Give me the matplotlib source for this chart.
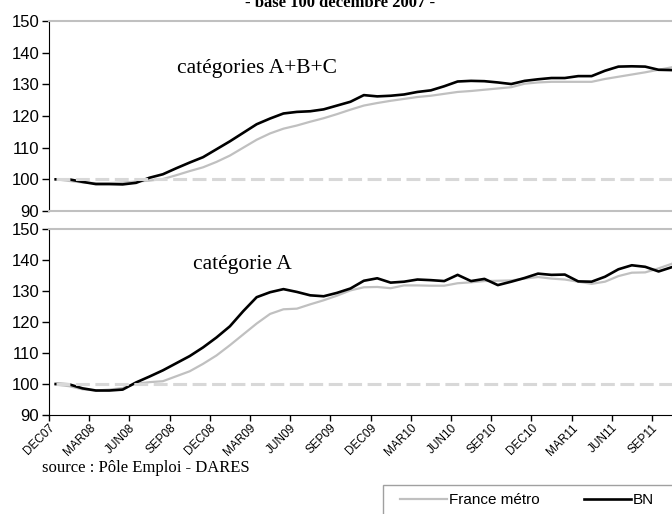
import matplotlib
matplotlib.use("Agg")
import matplotlib.pyplot as plt
from matplotlib.patches import Rectangle
import numpy as np

plt.rcParams['lines.scale_dashes'] = False

# mois de déc. 2007 à nov. 2011
months = ['DEC07', 'JAN08', 'FEB08', 'MAR08', 'APR08', 'MAY08', 'JUN08', 'JUL08', 'AUG08',
          'SEP08', 'OCT08', 'NOV08', 'DEC08', 'JAN09', 'FEB09', 'MAR09', 'APR09', 'MAY09',
          'JUN09', 'JUL09', 'AUG09', 'SEP09', 'OCT09', 'NOV09', 'DEC09', 'JAN10', 'FEB10',
          'MAR10', 'APR10', 'MAY10', 'JUN10', 'JUL10', 'AUG10', 'SEP10', 'OCT10', 'NOV10',
          'DEC10', 'JAN11', 'FEB11', 'MAR11', 'APR11', 'MAY11', 'JUN11', 'JUL11', 'AUG11',
          'SEP11', 'OCT11', 'NOV11']

# catégories A+B+C
abc_france = [100, 99.5, 99, 98.8, 98.8, 99, 99.3, 99.6, 100.1, 101.3, 102.6, 103.8, 105.5,
              107.5, 110, 112.5, 114.5, 116, 117, 118.2, 119.3, 120.6, 122, 123.3, 124.1,
              124.8, 125.4, 126, 126.4, 127, 127.6, 127.9, 128.3, 128.7, 129.1, 130.2, 130.6,
              130.8, 130.8, 130.8, 130.8, 131.7, 132.4, 133.1, 133.8, 134.6, 135.4, 135.8]
abc_bn = [100, 100, 99.2, 98.5, 98.5, 98.4, 98.9, 100.5, 101.6, 103.5, 105.3, 107, 109.5,
          112, 114.7, 117.4, 119.2, 120.8, 121.3, 121.5, 122.1, 123.3, 124.5, 126.6, 126.2,
          126.4, 126.8, 127.6, 128.1, 129.4, 130.9, 131.1, 131, 130.6, 130.1, 131.1, 131.6,
          132, 132, 132.6, 132.6, 134.3, 135.6, 135.7, 135.6, 134.6, 134.5, 134.6]

# catégorie A
a_france = [99.8, 99.3, 98.3, 97.9, 98.2, 98.7, 100.1, 100.6, 100.9, 102.5, 104.1, 106.5,
            109.2, 112.5, 116, 119.5, 122.6, 124.1, 124.3, 125.7, 127, 128.5, 130.2, 131.2,
            131.3, 130.9, 131.8, 131.8, 131.7, 131.7, 132.5, 132.8, 133.2, 133.3, 133.4, 134,
            134.5, 134, 133.7, 133, 132.3, 133, 134.8, 135.9, 136, 137.3, 138.8, 139.3]
a_bn = [100, 99.9, 98.6, 97.9, 97.9, 98.2, 100.5, 102.4, 104.4, 106.7, 109, 111.8, 115,
        118.6, 123.5, 128, 129.6, 130.6, 129.7, 128.6, 128.3, 129.4, 130.8, 133.3, 134.1,
        132.7, 133, 133.7, 133.5, 133.2, 135.2, 133.2, 133.9, 131.9, 133, 134.2, 135.6,
        135.2, 135.3, 133.1, 133, 134.6, 137, 138.3, 137.8, 136.3, 137.7, 138.8]

yticks = [90, 100, 110, 120, 130, 140, 150]

x = np.arange(len(months))

fig = plt.figure(figsize=(6.72, 5.14), dpi=100)
# l'axe dépasse à droite : le graphique d'origine est coupé
ax1 = fig.add_axes([0.0729, 0.5895, 0.957, 0.3696])
ax2 = fig.add_axes([0.0729, 0.1926, 0.957, 0.3619])

panels = [(ax1, abc_france, abc_bn, 'catégories A+B+C', 177, 0.748),
          (ax2, a_france, a_bn, 'catégorie A', 193, 0.81)]

for ax, fr, bn, label, lx, ly in panels:
    ax.plot(x, fr, color='#c0c0c0', lw=1.6, zorder=2)
    ax.plot(x, bn, color='black', lw=1.9, zorder=3)
    # ligne de base 100
    ax.plot([x[0], x[-1]], [100, 100], color='#d8d8d8', lw=2.2,
            dashes=(10, 4), zorder=4)
    ax.set_xlim(-0.5, len(months) - 0.5)
    ax.set_ylim(90, 150)
    ax.set_yticks(yticks)
    ax.tick_params(axis='y', direction='out', length=5, width=1, labelsize=12, pad=2)
    for t in ax.get_yticklabels():
        t.set_fontfamily('Liberation Sans')
    ax.spines['right'].set_visible(False)
    ax.spines['left'].set_color('black')
    ax.spines['top'].set_color('#c0c0c0')
    ax.spines['top'].set_linewidth(1.5)
    ax.text((lx - 49) / 643, ly, label, transform=ax.transAxes,
            family='Liberation Serif', fontsize=15.5, va='center', ha='left')

ax1.spines['bottom'].set_color('#c0c0c0')
ax1.spines['bottom'].set_linewidth(1.5)
ax1.set_xticks([])

ax2.spines['bottom'].set_color('black')
ax2.set_xticks(x[::3] - 0.5)
ax2.set_xticklabels(months[::3], rotation=45, ha='right', rotation_mode='anchor',
                    family='Liberation Sans', fontsize=8.5)
ax2.tick_params(axis='x', direction='out', length=4, width=1, pad=1)

fig.text(340 / 672, 1 - 7 / 514, '- base 100 décembre 2007 -', ha='center',
         va='baseline', family='Liberation Serif', fontweight='bold', fontsize=12)
fig.text(42 / 672, 1 - 468 / 514, 'source : Pôle Emploi - DARES', ha='left',
         va='center', family='Liberation Serif', fontsize=12)

# légende en bas à droite (cadre coupé par le bord de l'image)
fig.patches.append(Rectangle((383 / 672, -0.05), 0.5, 0.05 + (514 - 485) / 514,
                             transform=fig.transFigure, fill=False,
                             edgecolor='#a0a0a0', lw=1))
leg_handles = [plt.Line2D([], [], color='#c0c0c0', lw=1.6),
               plt.Line2D([], [], color='black', lw=1.9)]
leg = fig.legend(leg_handles, ['France métro', 'BN'], ncol=2,
                 loc='center left', bbox_to_anchor=(400 / 672, 1 - 500 / 514),
                 prop={'family': 'Liberation Sans', 'size': 11},
                 frameon=False, handlelength=3.1, borderaxespad=0,
                 handletextpad=0.1, columnspacing=2.9, borderpad=0)

fig.savefig('out.png', dpi=100)
